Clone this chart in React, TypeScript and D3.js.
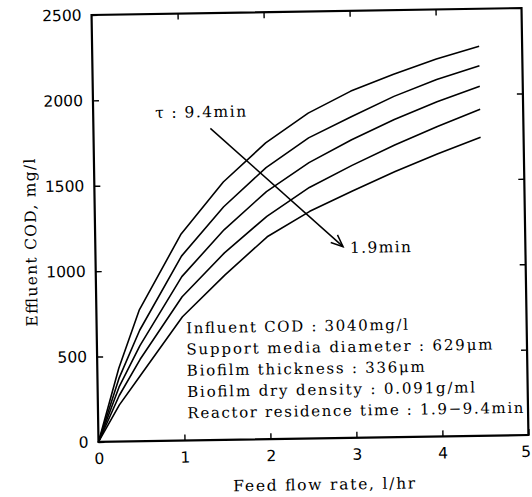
import React, { useRef, useEffect } from "react";
import * as d3 from "d3";

// feed flow rate, l/hr
const flowRate = [0, 0.25, 0.5, 1, 1.5, 2, 2.5, 3, 3.5, 4, 4.5];

// effluent COD, mg/l, from tau = 9.4 min (top) down to tau = 1.9 min (bottom)
const codTau94 = [0, 430, 770, 1210, 1510, 1735, 1905, 2030, 2125, 2210, 2280];
const codTau2 = [0, 370, 650, 1080, 1365, 1590, 1760, 1880, 1995, 2090, 2166];
const codTau3 = [0, 320, 560, 960, 1230, 1450, 1615, 1745, 1860, 1960, 2046];
const codTau4 = [0, 270, 480, 842, 1095, 1305, 1470, 1595, 1710, 1815, 1912];
const codTau19 = [0, 215, 385, 725, 965, 1185, 1330, 1445, 1555, 1655, 1748];

const xTicks = [0, 1, 2, 3, 4, 5];
const yTicks = [0, 500, 1000, 1500, 2000, 2500];

const notes = [
  "Influent COD : 3040mg/l",
  "Support media diameter : 629\u03bcm",
  "Biofilm thickness : 336\u03bcm",
  "Biofilm dry density : 0.091g/ml",
  "Reactor residence time : 1.9\u22129.4min",
];
const noteWidths = [222, 306, 238, 288, 336];

export default function App() {
  const ref = useRef(null);

  useEffect(() => {
    const width = 532;
    const height = 497;
    const margin = { top: 11.5, right: 7, bottom: 58.5, left: 95 };
    const serif = "'DejaVu Serif', serif";
    const sans = "'DejaVu Sans', sans-serif";

    const svg = d3.select(ref.current);
    svg.selectAll("*").remove();
    svg.attr("width", width).attr("height", height);

    svg.append("rect").attr("width", width).attr("height", height).attr("fill", "#fff");

    // the scanned figure is slightly tilted
    const g = svg.append("g").attr("transform", "rotate(-0.93,310,225)");

    const x = d3.scaleLinear().domain([0, 5]).range([margin.left, width - margin.right]);
    const y = d3.scaleLinear().domain([0, 2500]).range([height - margin.bottom, margin.top]);

    const x0 = x(0), x1 = x(5), y0 = y(0), y1 = y(2500);
    const fmt = d3.format("d");

    // ticks (inward on all sides)
    const styleAxis = (sel) => {
      sel.select(".domain").remove();
      sel.selectAll(".tick line").attr("stroke", "#000").attr("stroke-width", 1.4);
      sel.selectAll("text")
        .attr("font-family", sans)
        .attr("font-size", 15.5)
        .attr("fill", "#000");
    };

    g.append("g")
      .attr("transform", `translate(0,${y0})`)
      .call(d3.axisBottom(x).tickValues(xTicks).tickFormat(fmt).tickSizeInner(-6).tickSizeOuter(0).tickPadding(11))
      .call(styleAxis)
      .call(s => s.selectAll(".tick text").filter(d => d === 5).attr("dx", -3));

    g.append("g")
      .attr("transform", `translate(${x0},0)`)
      .call(d3.axisLeft(y).tickValues(yTicks).tickFormat(fmt).tickSizeInner(-6).tickSizeOuter(0).tickPadding(10))
      .call(styleAxis);

    g.append("g")
      .attr("transform", `translate(0,${y1})`)
      .call(d3.axisTop(x).tickValues([1, 2, 3, 4]).tickSizeInner(-6).tickSizeOuter(0).tickFormat(() => ""))
      .call(styleAxis);

    g.append("g")
      .attr("transform", `translate(${x1},0)`)
      .call(d3.axisRight(y).tickValues([500, 1000, 1500, 2000]).tickSizeInner(-6).tickSizeOuter(0).tickFormat(() => ""))
      .call(styleAxis);

    g.append("rect")
      .attr("x", x0)
      .attr("y", y1)
      .attr("width", x1 - x0)
      .attr("height", y0 - y1)
      .attr("fill", "none")
      .attr("stroke", "#000")
      .attr("stroke-width", 2.2);

    // curves
    const series = [codTau94, codTau2, codTau3, codTau4, codTau19];
    const line = d3.line()
      .x((d, i) => x(flowRate[i]))
      .y(d => y(d));

    g.append("g")
      .selectAll("path")
      .data(series)
      .join("path")
      .attr("d", d => line(d))
      .attr("fill", "none")
      .attr("stroke", "#000")
      .attr("stroke-width", 1.6)
      .attr("stroke-linejoin", "round");

    // arrow across the curves
    const ax1 = x(1.36), ay1 = y(1825), ax2 = x(2.88), ay2 = y(1120);
    g.append("line")
      .attr("x1", ax1).attr("y1", ay1)
      .attr("x2", ax2).attr("y2", ay2)
      .attr("stroke", "#000").attr("stroke-width", 1.5);
    const ang = Math.atan2(ay2 - ay1, ax2 - ax1);
    const head = 13;
    const spread = 0.4;
    g.append("path")
      .attr("d", `M${ax2 - head * Math.cos(ang - spread)},${ay2 - head * Math.sin(ang - spread)}L${ax2},${ay2}L${ax2 - head * Math.cos(ang + spread)},${ay2 - head * Math.sin(ang + spread)}`)
      .attr("fill", "none")
      .attr("stroke", "#000")
      .attr("stroke-width", 1.5);

    g.append("text")
      .attr("x", x(0.72))
      .attr("y", y(1891))
      .attr("font-family", serif)
      .attr("font-size", 15.5)
      .attr("textLength", 91)
      .attr("lengthAdjust", "spacing")
      .text("\u03c4 : 9.4min");

    g.append("text")
      .attr("x", x(2.96))
      .attr("y", y(1082))
      .attr("font-family", serif)
      .attr("font-size", 15.5)
      .attr("textLength", 61)
      .attr("lengthAdjust", "spacing")
      .text("1.9min");

    // conditions
    g.append("g")
      .selectAll("text")
      .data(notes)
      .join("text")
      .attr("x", x(1.04))
      .attr("y", (d, i) => y(628) + i * 21.25)
      .attr("font-family", serif)
      .attr("font-size", 15)
      .attr("textLength", (d, i) => noteWidths[i])
      .attr("lengthAdjust", "spacing")
      .text(d => d);

    // axis titles
    g.append("text")
      .attr("x", 320)
      .attr("y", 490)
      .attr("text-anchor", "middle")
      .attr("font-family", serif)
      .attr("font-size", 15.5)
      .attr("textLength", 182)
      .attr("lengthAdjust", "spacing")
      .text("Feed flow rate, l/hr");

    g.append("text")
      .attr("transform", "translate(36,238) rotate(-90)")
      .attr("text-anchor", "middle")
      .attr("font-family", serif)
      .attr("font-size", 15.5)
      .attr("textLength", 168)
      .attr("lengthAdjust", "spacing")
      .text("Effluent COD, mg/l");
  }, []);

  return (
    <div style={{ position: "absolute", left: 0, top: 0 }}>
      <svg ref={ref} style={{ display: "block" }}></svg>
    </div>
  );
}
